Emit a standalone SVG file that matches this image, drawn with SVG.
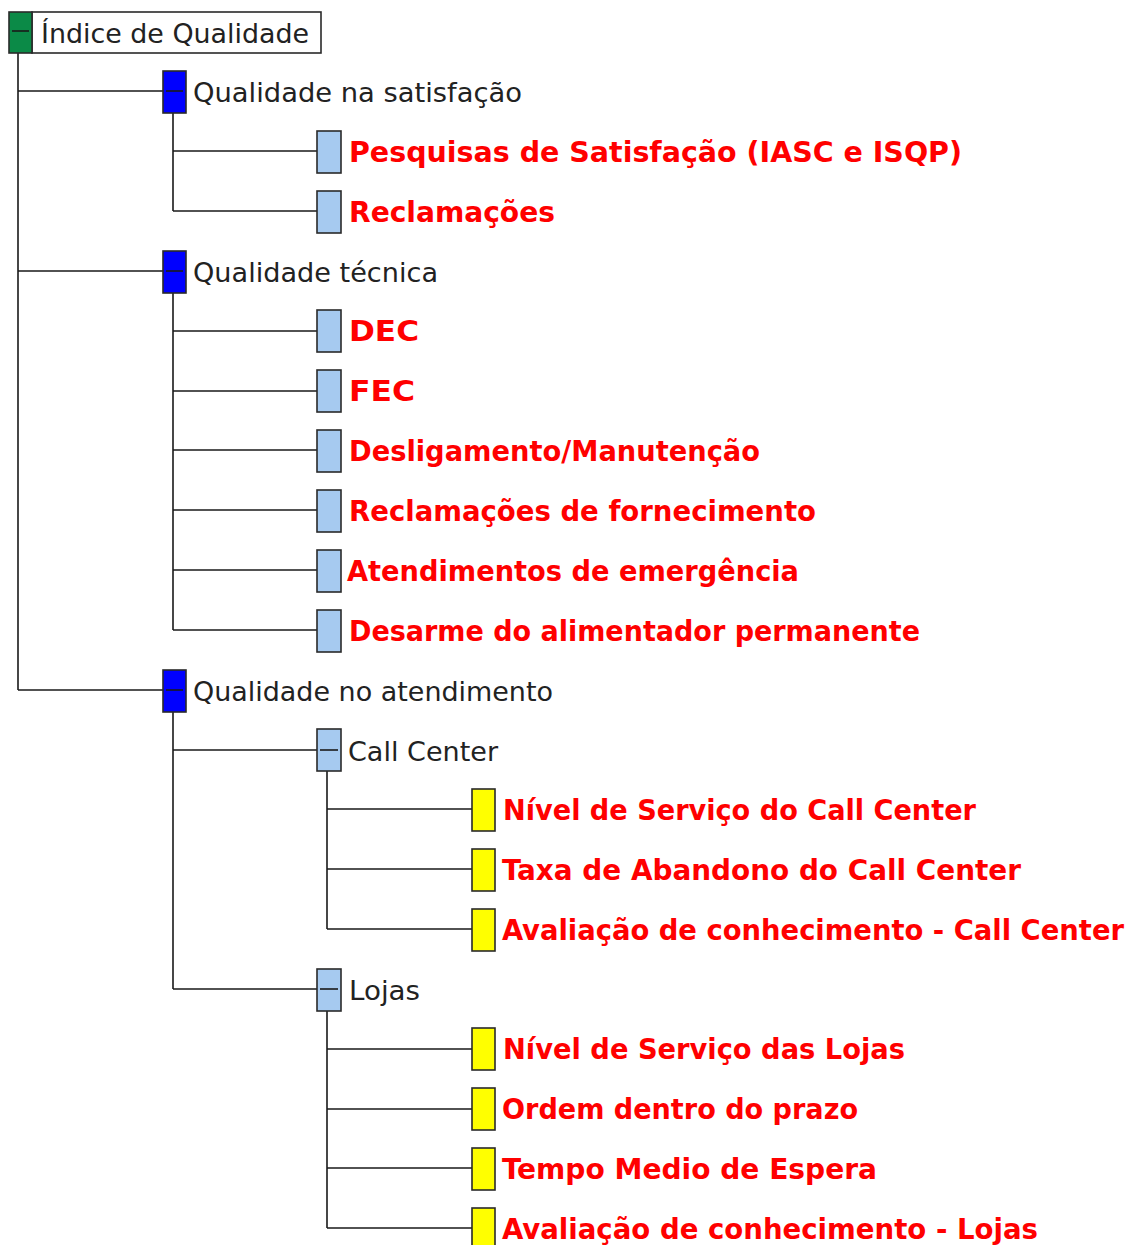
<svg xmlns="http://www.w3.org/2000/svg" width="1131" height="1245" viewBox="0 0 1131 1245">
<style>
.ln{stroke:#1a1a1a;stroke-width:1.6;fill:none}
.bx{stroke:#2a2a2a;stroke-width:1.6}
.g{fill:#0b8a47}.b{fill:#0000ff}.lb{fill:#a6caf0}.y{fill:#ffff00}
.mn{stroke:#1a1a1a;stroke-width:1.6}
.t{font-family:"DejaVu Sans",Verdana,sans-serif;font-size:27px;fill:#222}
.r{font-family:"DejaVu Sans Condensed","DejaVu Sans",Verdana,sans-serif;font-stretch:condensed;font-size:28px;font-weight:bold;fill:#ff0000}
</style>
<g id="connectors">
<path class="ln" d="M18 53V690M18 91H163M18 271H163M18 690H163"/>
<path class="ln" d="M173 113V211M173 151H317M173 211H317"/>
<path class="ln" d="M173 293V630M173 331H317M173 391H317M173 450H317M173 510H317M173 570H317M173 630H317"/>
<path class="ln" d="M173 712V989M173 750H317M173 989H317"/>
<path class="ln" d="M327 771V929M327 809H472M327 869H472M327 929H472"/>
<path class="ln" d="M327 1011V1228M327 1049H472M327 1109H472M327 1168H472M327 1228H472"/>
</g>
<g id="n0"><rect x="32" y="12" width="289" height="41" fill="#fff" class="bx"/><rect x="9" y="12" width="23" height="41" class="bx g"/><path class="mn" d="M12 31H29"/><text class="t" x="41" y="43" textLength="268" lengthAdjust="spacingAndGlyphs">Índice de Qualidade</text></g>
<g id="n1"><rect x="163" y="71" width="23" height="42" class="bx b"/><path class="mn" d="M166 91H183"/><text class="t" x="193" y="102" textLength="329" lengthAdjust="spacingAndGlyphs">Qualidade na satisfação</text></g>
<g id="n2"><rect x="317" y="131" width="24" height="42" class="bx lb"/><text class="r" x="349" y="162" textLength="613" lengthAdjust="spacingAndGlyphs">Pesquisas de Satisfação (IASC e ISQP)</text></g>
<g id="n3"><rect x="317" y="191" width="24" height="42" class="bx lb"/><text class="r" x="349" y="222" textLength="206" lengthAdjust="spacingAndGlyphs">Reclamações</text></g>
<g id="n4"><rect x="163" y="251" width="23" height="42" class="bx b"/><path class="mn" d="M166 271H183"/><text class="t" x="193" y="282" textLength="245" lengthAdjust="spacingAndGlyphs">Qualidade técnica</text></g>
<g id="n5"><rect x="317" y="310" width="24" height="42" class="bx lb"/><text class="r" x="349" y="341" textLength="70" lengthAdjust="spacingAndGlyphs">DEC</text></g>
<g id="n6"><rect x="317" y="370" width="24" height="42" class="bx lb"/><text class="r" x="349" y="401" textLength="66" lengthAdjust="spacingAndGlyphs">FEC</text></g>
<g id="n7"><rect x="317" y="430" width="24" height="42" class="bx lb"/><text class="r" x="349" y="461" textLength="411" lengthAdjust="spacingAndGlyphs">Desligamento/Manutenção</text></g>
<g id="n8"><rect x="317" y="490" width="24" height="42" class="bx lb"/><text class="r" x="349" y="521" textLength="467" lengthAdjust="spacingAndGlyphs">Reclamações de fornecimento</text></g>
<g id="n9"><rect x="317" y="550" width="24" height="42" class="bx lb"/><text class="r" x="347" y="581" textLength="452" lengthAdjust="spacingAndGlyphs">Atendimentos de emergência</text></g>
<g id="n10"><rect x="317" y="610" width="24" height="42" class="bx lb"/><text class="r" x="349" y="641" textLength="571" lengthAdjust="spacingAndGlyphs">Desarme do alimentador permanente</text></g>
<g id="n11"><rect x="163" y="670" width="23" height="42" class="bx b"/><path class="mn" d="M166 690H183"/><text class="t" x="193" y="701" textLength="360" lengthAdjust="spacingAndGlyphs">Qualidade no atendimento</text></g>
<g id="n12"><rect x="317" y="729" width="24" height="42" class="bx lb"/><path class="mn" d="M320 750H338"/><text class="t" x="348" y="761" textLength="150" lengthAdjust="spacingAndGlyphs">Call Center</text></g>
<g id="n13"><rect x="472" y="789" width="23" height="42" class="bx y"/><text class="r" x="503" y="820" textLength="473" lengthAdjust="spacingAndGlyphs">Nível de Serviço do Call Center</text></g>
<g id="n14"><rect x="472" y="849" width="23" height="42" class="bx y"/><text class="r" x="502" y="880" textLength="519" lengthAdjust="spacingAndGlyphs">Taxa de Abandono do Call Center</text></g>
<g id="n15"><rect x="472" y="909" width="23" height="42" class="bx y"/><text class="r" x="502" y="940" textLength="622" lengthAdjust="spacingAndGlyphs">Avaliação de conhecimento - Call Center</text></g>
<g id="n16"><rect x="317" y="969" width="24" height="42" class="bx lb"/><path class="mn" d="M320 989H338"/><text class="t" x="349" y="1000" textLength="71" lengthAdjust="spacingAndGlyphs">Lojas</text></g>
<g id="n17"><rect x="472" y="1028" width="23" height="42" class="bx y"/><text class="r" x="503" y="1059" textLength="402" lengthAdjust="spacingAndGlyphs">Nível de Serviço das Lojas</text></g>
<g id="n18"><rect x="472" y="1088" width="23" height="42" class="bx y"/><text class="r" x="502" y="1119" textLength="356" lengthAdjust="spacingAndGlyphs">Ordem dentro do prazo</text></g>
<g id="n19"><rect x="472" y="1148" width="23" height="42" class="bx y"/><text class="r" x="502" y="1179" textLength="375" lengthAdjust="spacingAndGlyphs">Tempo Medio de Espera</text></g>
<g id="n20"><rect x="472" y="1208" width="23" height="42" class="bx y"/><text class="r" x="502" y="1239" textLength="536" lengthAdjust="spacingAndGlyphs">Avaliação de conhecimento - Lojas</text></g>
</svg>
